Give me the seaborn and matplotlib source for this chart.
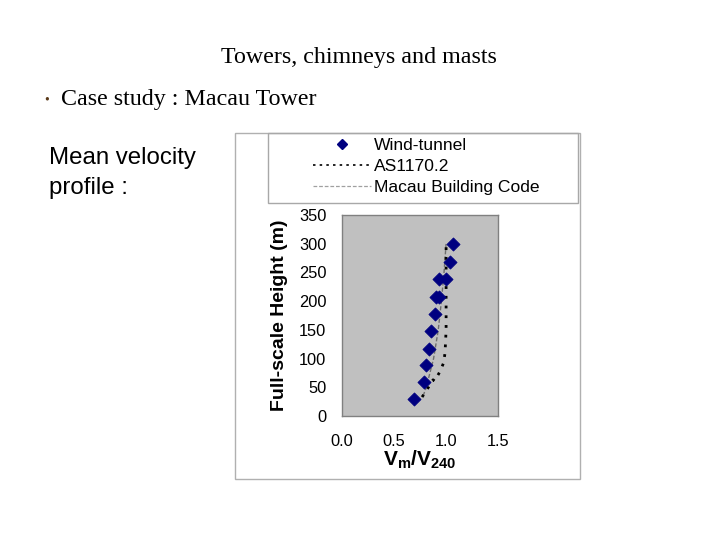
import matplotlib
matplotlib.use("Agg")
import matplotlib.pyplot as plt
from matplotlib.patches import Rectangle
from matplotlib.lines import Line2D
import numpy as np
import pandas as pd
import seaborn as sns

# wind-tunnel measurements (Vm/V240, height m)
wt_ratio = [0.69, 0.79, 0.81, 0.84, 0.86, 0.89, 0.90, 0.93, 0.93, 1.00, 1.04, 1.07]
wt_height = [29, 59, 88, 117, 148, 178, 207, 207, 238, 238, 268, 299]

# AS1170.2 profile
as_ratio = [0.77, 0.845, 0.875, 0.89, 0.94, 0.975, 0.99, 1.0, 1.0, 1.0, 1.0]
as_height = [33, 54, 63, 61, 77, 92, 110, 150, 200, 250, 300]

# Macau Building Code profile
mc_ratio = [0.78, 0.81, 0.88, 0.925, 0.955, 0.98, 1.0]
mc_height = [35, 50, 100, 150, 200, 250, 300]

sns.set_style("white")
plt.rcParams['font.family'] = ['Liberation Sans', 'DejaVu Sans']
plt.rcParams['mathtext.fontset'] = 'custom'
plt.rcParams['mathtext.bf'] = 'Liberation Sans:bold'
plt.rcParams['mathtext.rm'] = 'Liberation Sans'
plt.rcParams['text.color'] = 'black'
plt.rcParams['axes.labelcolor'] = 'black'
plt.rcParams['xtick.labelcolor'] = 'black'
plt.rcParams['ytick.labelcolor'] = 'black'

fig = plt.figure(figsize=(7.2, 5.4), dpi=100)
fig.patch.set_facecolor('white')

# slide texts
fig.text(359/720, 1-58/540, 'Towers, chimneys and masts', family=['Liberation Serif'],
         fontsize=17.3, ha='center', va='center')
fig.text(47/720, 1-100/540, '\u2022', family=['Liberation Serif'], fontsize=10,
         ha='center', va='center', color='#5a3a1a')
fig.text(61/720, 1-100/540, 'Case study : Macau Tower', family=['Liberation Serif'],
         fontsize=17.3, ha='left', va='center')
fig.text(49/720, 1-158/540, 'Mean velocity', fontsize=17.3, ha='left', va='center')
fig.text(49/720, 1-188/540, 'profile :', fontsize=17.3, ha='left', va='center')

# chart frame and legend box
fig.patches.append(Rectangle((235/720, 1-479/540), 345/720, 346/540, transform=fig.transFigure,
                             fill=False, edgecolor='#b0b0b0', lw=1))
fig.patches.append(Rectangle((268/720, 1-203/540), 310/720, 70/540, transform=fig.transFigure,
                             fill=False, edgecolor='#a8a8a8', lw=1))

ax = fig.add_axes([341.7/720, 1-416/540, 156.6/720, 201/540])
ax.set_facecolor('#c0c0c0')

df_mc = pd.DataFrame({'ratio': mc_ratio, 'height': mc_height})
df_as = pd.DataFrame({'ratio': as_ratio, 'height': as_height})
df_wt = pd.DataFrame({'ratio': wt_ratio, 'height': wt_height})

sns.lineplot(data=df_mc, x='ratio', y='height', sort=False, estimator=None, ax=ax,
             color='#6e6e6e', lw=1.0, linestyle=(0, (3, 1.5)))
sns.lineplot(data=df_as, x='ratio', y='height', sort=False, estimator=None, ax=ax,
             color='black', lw=2, linestyle=(0, (1, 2.5)))
sns.scatterplot(data=df_wt, x='ratio', y='height', ax=ax, marker='D', s=45,
                color='#000080', edgecolor='#000080', zorder=5)

ax.set_xlim(0, 1.5)
ax.set_ylim(0, 350)
ax.set_xticks([0, 0.5, 1.0, 1.5])
ax.set_xticklabels(['0.0', '0.5', '1.0', '1.5'])
ax.set_yticks(range(0, 351, 50))
for s in ax.spines.values():
    s.set_color('#808080')
    s.set_linewidth(1)
ax.tick_params(axis='both', direction='out', length=4, width=1, color='#808080',
               labelsize=11.8)
ax.tick_params(axis='y', pad=7)
ax.tick_params(axis='x', pad=9)
ax.set_ylabel('Full-scale Height (m)', fontsize=14, fontweight='bold', labelpad=8)
ax.set_xlabel(r'$\mathbf{V_{m}/V_{240}}$', fontsize=15, labelpad=0)

handles = [
    Line2D([], [], marker='D', color='#000080', ls='none', markersize=5),
    Line2D([], [], color='black', lw=1.2, linestyle=(0, (1.5, 2.5))),
    Line2D([], [], color='#a0a0a0', lw=0.9, linestyle=(0, (3, 1.5))),
]
labels = ['Wind-tunnel', 'AS1170.2', 'Macau Building Code']
fig.legend(handles, labels, loc='upper left', bbox_to_anchor=(313/720, 1-138/540),
           frameon=False, fontsize=12.6, handlelength=3.3, handletextpad=0.2,
           labelspacing=0.32, borderpad=0, borderaxespad=0)

fig.savefig('out.png', dpi=100, facecolor='white')
